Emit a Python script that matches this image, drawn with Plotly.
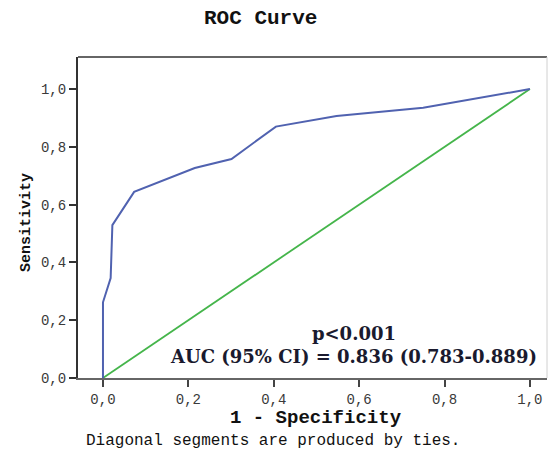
import plotly.graph_objects as go

# ROC curve data
fpr = [0.0, 0.0, 0.018, 0.022, 0.073, 0.215, 0.301, 0.405, 0.547, 0.750, 1.0]
tpr = [0.0, 0.262, 0.346, 0.529, 0.644, 0.727, 0.758, 0.870, 0.907, 0.935, 1.0]

ref_x = [0.0, 1.0]
ref_y = [0.0, 1.0]

tick_vals = [0.0, 0.2, 0.4, 0.6, 0.8, 1.0]
tick_text = ["0,0", "0,2", "0,4", "0,6", "0,8", "1,0"]

title_text = "ROC Curve"
x_title = "1 - Specificity"
y_title = "Sensitivity"
footnote = "Diagonal segments are produced by ties."
p_text = "p<0.001"
auc_text = "AUC (95% CI) = 0.836 (0.783-0.889)"

MONO = "Liberation Mono, DejaVu Sans Mono, monospace"
SERIF = "DejaVu Serif, Liberation Serif, serif"

fig = go.Figure()
fig.add_trace(go.Scatter(x=ref_x, y=ref_y, mode="lines",
                         line=dict(color="#45b54b", width=1.8),
                         hoverinfo="skip", showlegend=False))
fig.add_trace(go.Scatter(x=fpr, y=tpr, mode="lines",
                         line=dict(color="#5062b0", width=2),
                         showlegend=False))

axis_common = dict(
    tickvals=tick_vals, ticktext=tick_text,
    ticks="outside", ticklen=7, tickwidth=1.5,
    showgrid=False, zeroline=False, showline=True, automargin=False,
    tickfont=dict(family=MONO, size=14, color="#3a3a3a"),
)

fig.update_xaxes(range=[-0.0585, 1.04], linecolor="#666666", linewidth=1.5,
                 tickcolor="#444444", **axis_common)
fig.update_yaxes(range=[0, 1.111], linecolor="#333333", linewidth=2,
                 tickcolor="#333333", **axis_common)

# top and right border
fig.add_shape(type="line", xref="paper", yref="paper", x0=0, x1=1, y0=1, y1=1,
              line=dict(color="#333333", width=1.5))
fig.add_shape(type="line", xref="paper", yref="paper", x0=1, x1=1, y0=0, y1=1,
              line=dict(color="#d0d0d0", width=1))

W, H = 550, 454
L, R, T, B = 78, 3, 57, 76


def px_to_paper(px, py):
    return (px - L) / (W - L - R), (H - B - py) / (H - T - B)


annotations = [
    dict(text=f"<b>{title_text}</b>", x=260, y=18, font=dict(family=MONO, size=21, color="#111111")),
    dict(text=f"<b>{x_title}</b>", x=316, y=418, font=dict(family=MONO, size=19, color="#111111")),
    dict(text=footnote, x=273, y=441, font=dict(family=MONO, size=16, color="#111111")),
    dict(text=f"<b>{p_text}</b><br><b>{auc_text}</b>", x=353, y=345,
         font=dict(family=SERIF, size=18, color="#1a1a2e")),
]
for a in annotations:
    ax, ay = px_to_paper(a["x"], a["y"])
    fig.add_annotation(text=a["text"], xref="paper", yref="paper", x=ax, y=ay,
                       xanchor="center", yanchor="middle", showarrow=False,
                       font=a["font"])
ax, ay = px_to_paper(26, 223)
fig.add_annotation(text=f"<b>{y_title}</b>", xref="paper", yref="paper", x=ax, y=ay,
                   xanchor="center", yanchor="middle", showarrow=False, textangle=-90,
                   font=dict(family=MONO, size=15, color="#111111"))

fig.update_layout(width=W, height=H, margin=dict(l=L, r=R, t=T, b=B),
                  plot_bgcolor="white", paper_bgcolor="white")

fig.write_html("out.html", config={"displayModeBar": False},
               post_script="document.body.style.margin='0';document.body.style.overflow='hidden';")
